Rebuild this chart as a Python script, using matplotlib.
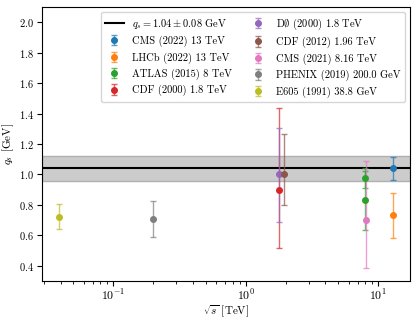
import matplotlib
matplotlib.use("Agg")
import matplotlib.pyplot as plt
import numpy as np

plt.rcParams["font.family"] = "serif"
plt.rcParams["font.serif"] = ["cmr10"]
plt.rcParams["mathtext.fontset"] = "cm"
plt.rcParams["axes.formatter.use_mathtext"] = True
plt.rcParams["axes.unicode_minus"] = False

# combined fit
qs_mean = 1.04
qs_err = 0.08

# experiments: label, sqrt(s) [TeV], q_s [GeV], lower err, upper err
labels = [
    "CMS (2022) 13 TeV",
    "LHCb (2022) 13 TeV",
    "ATLAS (2015) 8 TeV",
    "CDF (2000) 1.8 TeV",
    "D$\\emptyset$ (2000) 1.8 TeV",
    "CDF (2012) 1.96 TeV",
    "CMS (2021) 8.16 TeV",
    "PHENIX (2019) 200.0 GeV",
    "E605 (1991) 38.8 GeV",
]
energies = [[13.0], [13.0], [8.0, 8.0], [1.8], [1.8], [1.96], [8.16], [0.2], [0.0388]]
qs_vals = [[1.04], [0.735], [0.98, 0.83], [0.90], [1.00], [1.00], [0.70], [0.705], [0.723]]
err_lo = [[0.077], [0.15], [0.066, 0.195], [0.38], [0.31], [0.20], [0.317], [0.118], [0.083]]
err_hi = [[0.075], [0.146], [0.06, 0.195], [0.536], [0.304], [0.263], [0.388], [0.119], [0.083]]

fig = plt.figure(figsize=(4.17, 3.19), dpi=100)
ax = fig.add_axes([0.101, 0.119, 0.882, 0.859])

ax.axhspan(qs_mean - qs_err, qs_mean + qs_err, facecolor="#cccccc",
           edgecolor="#b0b0b0", linewidth=1.0, zorder=0)
ax.axhline(qs_mean, color="black", linewidth=1.5,
           label=f"$q_s = {qs_mean:.2f} \\pm {qs_err:.2f}$ GeV")

for i, lab in enumerate(labels):
    eb = ax.errorbar(energies[i], qs_vals[i], yerr=[err_lo[i], err_hi[i]],
                     fmt="o", ms=4, capsize=2, elinewidth=1.0, color=f"C{i}",
                     label=lab)
    for c in eb[1]:
        c.set_alpha(0.7)
    for b in eb[2]:
        b.set_alpha(0.7)

ax.set_xscale("log")
ax.set_ylim(0.3, 2.1)
ax.set_yticks(np.arange(0.4, 2.01, 0.2))
ax.tick_params(axis="y", labelsize=7.5, pad=2.5)
ax.tick_params(axis="x", labelsize=8.5, pad=1.5)
ax.set_xlabel("$\\sqrt{s}$ [TeV]", fontsize=8, labelpad=1)
ax.set_ylabel("$q_s$ [GeV]", fontsize=8, labelpad=2)
ax.legend(ncol=2, loc="upper right", fontsize=7.5, handlelength=1.8,
          columnspacing=1.6)

fig.savefig("out.png", dpi=100)
